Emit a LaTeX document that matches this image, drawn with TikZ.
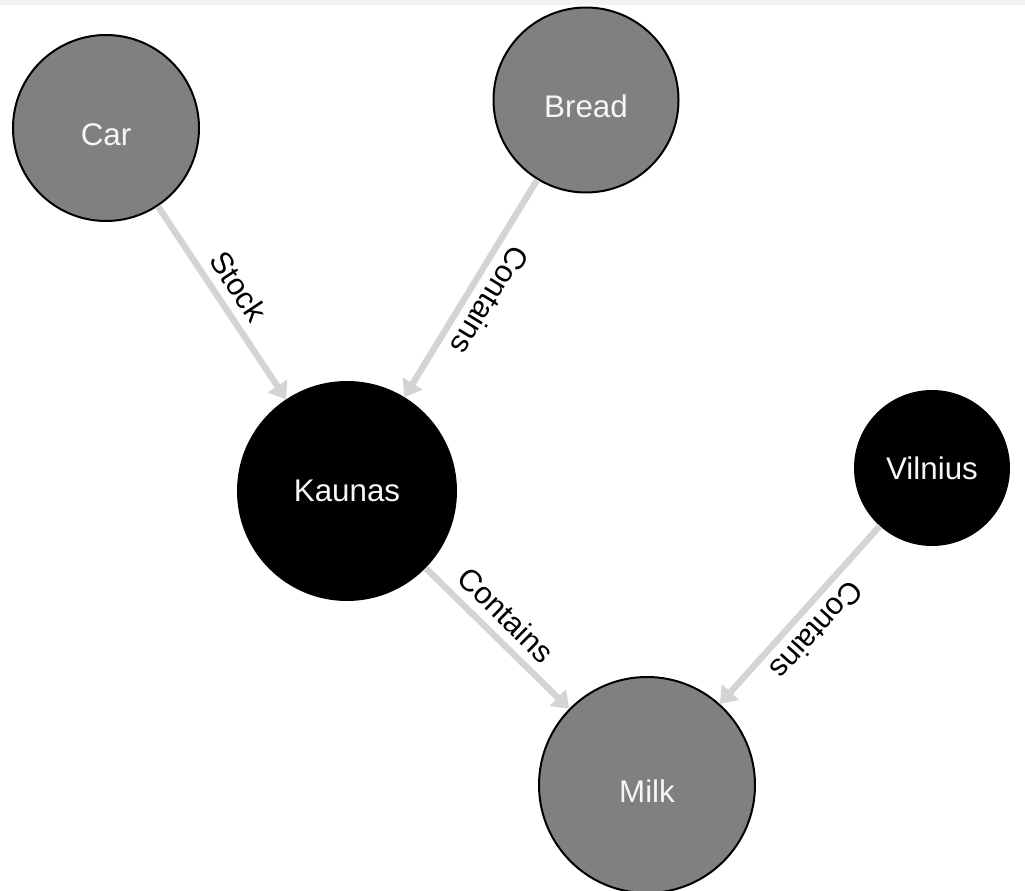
\documentclass[tikz,border=0pt]{standalone}
\usepackage{fontspec}
\setmainfont{Liberation Sans}
\usetikzlibrary{arrows.meta}
\definecolor{edgegray}{HTML}{D4D4D4}
\definecolor{nodegray}{HTML}{808080}
\definecolor{bandgray}{HTML}{F2F2F2}
\tikzset{
  entity/.style={circle, draw=black, line width=1.5pt, inner sep=0pt, text=white!93!gray, font=\fontsize{23.5}{26}\selectfont},
  grayent/.style={entity, fill=nodegray, text height=26pt, text depth=0pt},
  blackent/.style={entity, fill=black},
  rel/.style={draw=edgegray, line width=4.8pt, -{Triangle[width=17pt,length=12pt]}},
  lbl/.style={font=\fontsize{23}{26}\selectfont, text=black, sloped, allow upside down, above, inner sep=6.5pt}
}
\begin{document}
\begin{tikzpicture}[x=0.75pt, y=-0.75pt]
\useasboundingbox (0,0) rectangle (1025,891);
\fill[bandgray] (0,0) rectangle (1025,5);
\node[grayent, minimum size=139.5pt] (car) at (106,128) {Car};
\node[grayent, minimum size=138.75pt] (bread) at (586,100) {Bread};
\node[blackent, minimum size=163.5pt] (kaunas) at (347,491) {Kaunas};
\node[blackent, minimum size=115.5pt] (vilnius) at (932,468) {Vilnius};
\node[grayent, minimum size=162pt] (milk) at (647,785) {Milk};
\draw[rel] (car) -- node[lbl, pos=0.48] {Stock} (kaunas);
\draw[rel] (bread) -- node[lbl, pos=0.5] {Contains} (kaunas);
\draw[rel] (kaunas) -- node[lbl, pos=0.45] {Contains} (milk);
\draw[rel] (vilnius) -- node[lbl, pos=0.5] {Contains} (milk);
\end{tikzpicture}
\end{document}
